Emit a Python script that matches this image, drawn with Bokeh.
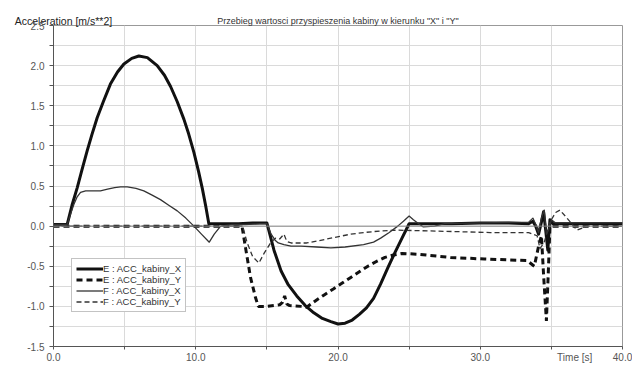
from bokeh.plotting import figure
from bokeh.models import FixedTicker, PrintfTickFormatter, Span, Legend, LegendItem, LinearAxis
from bokeh.embed import file_html
from bokeh.resources import INLINE

# ---------------- data ----------------
title_text = 'Przebieg wartosci przyspieszenia kabiny w kierunku "X" i "Y"'
y_label_text = "Acceleration [m/s**2]"
x_label_text = "Time [s]"

x_ticks = [0, 10, 20, 30, 40]
x_tick_labels = ["0.0", "10.0", "20.0", "30.0", "40.0"]
x_minor = [5, 15, 25, 35]
y_ticks = [-1.5, -1.0, -0.5, 0.0, 0.5, 1.0, 1.5, 2.0, 2.5]
y_tick_labels = ["-1.5", "-1.0", "-0.5", "0.0", "0.5", "1.0", "1.5", "2.0", "2.5"]
y_minor = [-1.25, -0.75, -0.25, 0.25, 0.75, 1.25, 1.75, 2.25]

ex_t = [0, 0.96, 1.3, 1.67, 2.0, 2.37, 2.7, 3.07, 3.5, 4.0, 4.5, 4.95, 5.5, 6.0, 6.6, 7.29, 7.8,
        8.23, 8.7, 9.17, 9.5, 9.87, 10.2, 10.46, 10.7, 10.92, 12.0, 13.0, 14.0, 15.0, 15.5, 16.0,
        16.5, 17.1, 17.7, 18.3, 18.9, 19.5, 20.0, 20.5, 21.0, 21.5, 22.0, 22.5, 23.0, 23.5, 24.0,
        24.5, 25.0, 26.0, 28.0, 30.0, 32.0, 33.4, 33.7, 33.9, 34.1, 34.3, 34.45, 34.6, 34.75, 34.9,
        35.1, 36.0, 38.0, 40.0]
ex_v = [0.02, 0.02, 0.26, 0.48, 0.70, 0.94, 1.14, 1.35, 1.55, 1.77, 1.92, 2.02, 2.09, 2.12, 2.10,
        2.00, 1.88, 1.74, 1.55, 1.33, 1.15, 0.92, 0.68, 0.47, 0.25, 0.03, 0.03, 0.03, 0.04, 0.04,
        -0.30, -0.56, -0.73, -0.87, -0.99, -1.08, -1.15, -1.19, -1.22, -1.21, -1.17, -1.10, -1.02,
        -0.90, -0.72, -0.52, -0.33, -0.15, 0.03, 0.03, 0.03, 0.04, 0.04, 0.03, 0.06, 0.0, -0.10,
        0.05, 0.18, -0.05, -0.30, 0.08, 0.03, 0.03, 0.03, 0.03]

ey_t = [0, 13.25, 13.5, 13.85, 14.2, 14.4, 15.0, 15.9, 16.1, 16.25, 16.4, 16.6, 17.4, 17.8, 18.5,
        19.0, 19.7, 20.3, 20.9, 21.5, 22.1, 22.7, 23.3, 23.9, 24.5, 25.6, 27.9, 30.3, 33.3, 33.8,
        34.1, 34.3, 34.45, 34.65, 34.8, 34.9, 40.0]
ey_v = [0.0, 0.0, -0.27, -0.64, -0.89, -1.0, -1.0, -0.98, -0.95, -0.87, -0.97, -0.99, -1.0, -1.01,
        -0.92, -0.86, -0.78, -0.71, -0.64, -0.57, -0.50, -0.44, -0.39, -0.36, -0.34, -0.35, -0.39,
        -0.41, -0.43, -0.50, -0.25, -0.12, -0.60, -1.18, -0.50, 0.0, 0.0]

fx_t = [0, 0.96, 1.2, 1.43, 1.65, 1.9, 2.26, 2.8, 3.3, 3.8, 4.3, 4.71, 5.18, 5.8, 6.35, 6.9, 7.52,
        8.1, 8.7, 9.3, 9.87, 10.4, 10.95, 11.3, 11.75, 12.5, 13.5, 14.5, 15.0, 15.3, 15.6, 15.8,
        16.2, 16.7, 17.4, 18.5, 19.5, 20.5, 21.8, 22.5, 23.0, 23.6, 24.2, 24.6, 25.0, 25.3, 25.6,
        26.0, 26.8, 27.5, 30.0, 33.4, 33.7, 33.9, 34.1, 34.3, 34.5, 34.65, 34.8, 35.0, 35.3, 36.0,
        40.0]
fx_v = [0.02, 0.02, 0.15, 0.27, 0.36, 0.42, 0.44, 0.44, 0.44, 0.46, 0.48, 0.49, 0.49, 0.47, 0.44,
        0.39, 0.33, 0.26, 0.19, 0.10, 0.0, -0.10, -0.20, -0.10, 0.0, 0.02, 0.02, 0.03, 0.03, -0.10,
        -0.18, -0.21, -0.23, -0.25, -0.25, -0.26, -0.27, -0.26, -0.23, -0.20, -0.15, -0.08, 0.0,
        0.06, 0.125, 0.08, 0.04, -0.01, 0.0, 0.03, 0.04, 0.05, 0.10, 0.02, -0.08, 0.10, 0.20,
        -0.10, -0.05, 0.08, 0.04, 0.04, 0.04]

fy_t = [0, 13.3, 13.6, 14.0, 14.44, 14.8, 15.26, 15.6, 15.9, 16.2, 16.4, 16.7, 17.8, 18.7, 19.5,
        20.9, 21.8, 23.0, 24.2, 26.5, 30.7, 33.4, 34.0, 34.2, 34.5, 34.9, 35.3, 35.6, 36.1, 36.8,
        37.5, 40.0]
fy_v = [0.0, 0.0, -0.20, -0.38, -0.46, -0.34, -0.21, -0.15, -0.16, -0.10, -0.19, -0.21, -0.21,
        -0.18, -0.15, -0.10, -0.08, -0.06, -0.05, -0.06, -0.08, -0.08, -0.12, -0.28, -0.20, 0.05,
        0.17, 0.20, 0.10, -0.05, 0.0, 0.0]

series_names = ["E : ACC_kabiny_X", "E : ACC_kabiny_Y", "F : ACC_kabiny_X", "F : ACC_kabiny_Y"]

# ---------------- figure ----------------
FONT = "Liberation Sans"
AX = "#555555"
p = figure(width=632, height=365, x_range=(0, 40), y_range=(-1.5, 2.5),
           output_backend="svg", toolbar_location=None,
           min_border_left=53, min_border_right=10, min_border_top=25, min_border_bottom=0)
p.background_fill_color = "white"
p.border_fill_color = "white"
p.outline_line_color = "#999999"

# bottom axis: tick marks every 5 s (drawn as minor ticks), labels at 10 s steps,
# plus the axis caption written on the same line as the tick labels
time_label_pos = 36.64
p.xaxis.ticker = FixedTicker(ticks=x_ticks + [time_label_pos], minor_ticks=sorted(x_ticks + x_minor))
p.xaxis.major_label_overrides = {**dict(zip(x_ticks, x_tick_labels)), time_label_pos: x_label_text}
p.xaxis.major_tick_out = 0
p.xaxis.major_tick_in = 0
p.xaxis.minor_tick_out = 3
p.xaxis.minor_tick_in = 0
p.xaxis.major_label_standoff = 2

p.yaxis.ticker = FixedTicker(ticks=y_ticks, minor_ticks=y_minor)
p.yaxis.formatter = PrintfTickFormatter(format="%.1f")
p.yaxis.major_label_overrides = dict(zip(y_ticks, y_tick_labels))
p.yaxis.major_tick_out = 4
p.yaxis.major_tick_in = 0
p.yaxis.minor_tick_out = 4
p.yaxis.minor_tick_in = 0
p.yaxis.major_label_standoff = 5

for ax in [p.xaxis[0], p.yaxis[0]]:
    ax.axis_label = None
    ax.axis_label_standoff = 0
    ax.axis_line_color = AX
    ax.major_tick_line_color = AX
    ax.minor_tick_line_color = AX
    ax.major_label_text_font = FONT
    ax.major_label_text_font_size = "10px"
    ax.major_label_text_color = AX

# top axis carrying the y-axis caption (left) and the chart title (centre)
ylabel_pos = 0.70
top = LinearAxis(ticker=FixedTicker(ticks=[ylabel_pos], minor_ticks=[]),
                 major_label_overrides={ylabel_pos: y_label_text},
                 axis_line_color=None, major_tick_line_color=None, minor_tick_line_color=None,
                 major_tick_out=0, major_tick_in=0, major_label_standoff=-1,
                 major_label_text_font=FONT, major_label_text_font_size="10.5px",
                 major_label_text_color="#222222",
                 axis_label=title_text, axis_label_standoff=-14,
                 axis_label_text_font=FONT, axis_label_text_font_size="9px",
                 axis_label_text_font_style="normal", axis_label_text_color="#333333")
p.add_layout(top, "above")

p.xgrid.ticker = FixedTicker(ticks=x_ticks + x_minor)
p.ygrid.ticker = FixedTicker(ticks=y_ticks + y_minor)
p.grid.grid_line_color = "#dadada"
p.grid.grid_line_width = 1

p.add_layout(Span(location=0, dimension="width", line_color="#888888", line_width=1))

r1 = p.line(ex_t, ex_v, line_color="#111111", line_width=3, line_join="round")
r2 = p.line(ey_t, ey_v, line_color="#111111", line_width=3, line_dash="6 4")
r3 = p.line(fx_t, fx_v, line_color="#333333", line_width=1.3, line_join="round")
r4 = p.line(fy_t, fy_v, line_color="#333333", line_width=1.3, line_dash="5 3")

legend = Legend(items=[LegendItem(label=n, renderers=[r]) for n, r in zip(series_names, [r1, r2, r3, r4])],
                location=(18, 34), orientation="vertical",
                label_text_font=FONT, label_text_font_size="9.5px", label_text_color="#333333",
                glyph_width=27, glyph_height=11, label_height=11, label_standoff=0,
                spacing=0, padding=4, margin=0,
                border_line_color="#888888", border_line_width=1,
                background_fill_color="white", background_fill_alpha=1.0)
p.add_layout(legend)

open("out.html", "w").write(file_html(p, INLINE))
